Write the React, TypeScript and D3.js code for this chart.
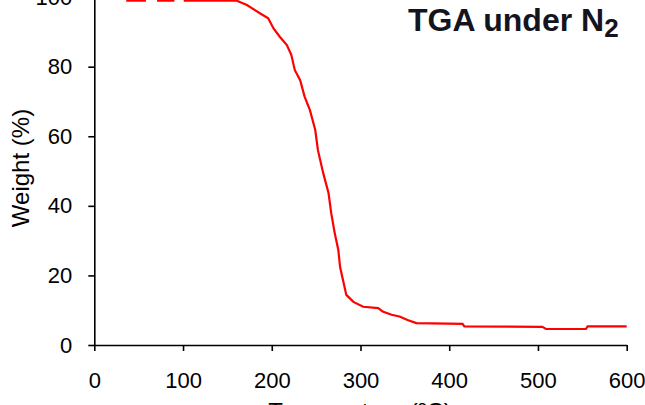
import React, { useRef, useEffect } from 'react';
import { select, axisBottom, axisLeft, scaleLinear, line, curveLinear } from 'd3';

// temperature (°C) and weight (%)
const temps = [36, 57, 57, 72, 72, 89, 89, 102, 102, 160, 172, 187, 196, 202, 209, 217, 222, 226, 232, 237, 243, 249, 252, 258, 264, 267, 271, 275, 277, 281, 284, 292, 303, 320, 325, 335, 344, 353, 363, 415, 417, 505, 509, 554, 556, 600];
const weights = [99, 99, 100.5, 100.5, 99, 99, 100.5, 100.5, 99, 99, 97.7, 95.3, 93.9, 91, 88.6, 86.2, 83.4, 79, 76.1, 71.4, 67.5, 61.8, 56, 49.4, 43.6, 37.9, 32.1, 27.3, 22.4, 17.8, 14.4, 12.4, 11, 10.6, 9.6, 8.7, 8.2, 7.2, 6.3, 6.1, 5.35, 5.2, 4.6, 4.6, 5.35, 5.35];

const xTicks = [0, 100, 200, 300, 400, 500, 600];
const yTicks = [0, 20, 40, 60, 80, 100];

const W = 645;
const H = 405;
const FONT = "Arial, 'Liberation Sans', sans-serif";

function App() {
    const svgRef = useRef<SVGSVGElement>(null);

    useEffect(() => {
        const svg = select(svgRef.current);

        const xScale = scaleLinear().domain([0, 600]).range([94.3, 626.7]);
        const yScale = scaleLinear().domain([0, 100]).range([345, -2.9]);

        const xAxis = axisBottom(xScale).tickValues(xTicks).tickSize(6).tickSizeOuter(0).tickPadding(21);
        const yAxis = axisLeft(yScale).tickValues(yTicks).tickSize(6).tickSizeOuter(0).tickPadding(16);

        svg.select<SVGGElement>('.x-axis')
            .attr('transform', `translate(0,${yScale(0)})`)
            .call(xAxis);
        svg.select<SVGGElement>('.y-axis')
            .attr('transform', `translate(${xScale(0)},0)`)
            .call(yAxis);

        svg.selectAll('.x-axis, .y-axis')
            .attr('font-family', FONT)
            .attr('font-size', 22);
        svg.selectAll('.x-axis path, .y-axis path, .x-axis line, .y-axis line')
            .attr('stroke', '#000')
            .attr('stroke-width', 1.6);
        svg.selectAll('.x-axis text, .y-axis text').attr('fill', '#000');

        const pts: [number, number][] = temps.map((t, i) => [t, weights[i]]);
        const path = line<[number, number]>()
            .x(d => xScale(d[0]))
            .y(d => yScale(d[1]))
            .curve(curveLinear);

        svg.select('.curve')
            .datum(pts)
            .attr('d', path)
            .attr('fill', 'none')
            .attr('stroke', '#ff0000')
            .attr('stroke-width', 2.2);
    }, []);

    return (
        <svg ref={svgRef} width={W} height={H} style={{ position: 'absolute', left: 0, top: 0, background: '#fff' }}>
            <g className="x-axis" />
            <g className="y-axis" />
            <path className="curve" />
            <text x={408} y={31} fontFamily={FONT} fontWeight="bold" fontSize={32} fill="#141420">
                TGA under N<tspan fontSize={26} dy={6}>2</tspan>
            </text>
            <text transform="translate(29,168) rotate(-90)" textAnchor="middle" fontFamily={FONT} fontSize={24} fill="#000">
                Weight (%)
            </text>
            <text x={360} y={420} textAnchor="middle" fontFamily={FONT} fontSize={24} fill="#000">
                Temperature (ºC)
            </text>
        </svg>
    );
}

export default App;
